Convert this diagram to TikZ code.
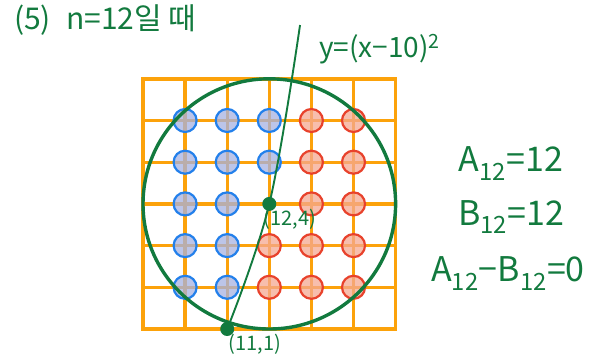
\documentclass[tikz,border=0pt]{standalone}
\usepackage{fontspec}
\setmainfont{Noto Sans CJK KR}
\usepackage{tikz}
\usetikzlibrary{positioning}

\definecolor{hgreen}{RGB}{18,122,62}
\definecolor{gorange}{RGB}{252,162,10}
\definecolor{dblue}{RGB}{35,128,235}
\definecolor{fblue}{RGB}{165,178,225}
\definecolor{dred}{RGB}{232,66,44}
\definecolor{fred}{RGB}{244,168,145}

\begin{document}
\begin{tikzpicture}[
  x=42.1pt, y=41.7pt,
  every node/.style={text=hgreen, inner sep=1pt},
  gridline/.style={draw=gorange, line width=3.4pt},
  lat/.style={circle, line width=2.2pt, minimum size=23pt, inner sep=0pt,
              fill opacity=0.75},
  bdot/.style={lat, draw=dblue, fill=fblue},
  rdot/.style={lat, draw=dred, fill=fred},
  gdot/.style={circle, fill=hgreen, minimum size=14pt, inner sep=0pt},
  bigcirc/.style={draw=hgreen, line width=3.4pt},
  curve/.style={draw=hgreen, line width=1.9pt},
  big/.style={font=\fontsize{34}{38}\selectfont},
  lbl/.style={font=\fontsize{20}{24}\selectfont}
]
\useasboundingbox (-3.397,-0.647) rectangle (10.665,7.890);

%% ---- GRID ------------------------------------------------------
\draw[gridline] (0,0) rectangle (6,6);
\foreach \k in {1,...,5} {
  \draw[gridline] (\k,0) -- (\k,6);
  \draw[gridline] (0,\k) -- (6,\k);
}

%% ---- LATTICE POINTS --------------------------------------------
\foreach \i/\j in {1/5,2/5,3/5,1/4,2/4,3/4,1/3,2/3,1/2,2/2,1/1,2/1}
  \node[bdot] (b-\i-\j) at (\i,\j) {};
\foreach \i/\j in {4/5,5/5,4/4,5/4,4/3,5/3,3/2,4/2,5/2,3/1,4/1,5/1}
  \node[rdot] (r-\i-\j) at (\i,\j) {};

%% ---- CIRCLE AND CURVE ------------------------------------------
\coordinate (ctr)  at (3,3);
\coordinate (low)  at (2,0);
\coordinate (ltop) at (3.73,7.29);

\draw[bigcirc] (ctr) circle[radius=3];
\draw[curve] plot[smooth, tension=0.6] coordinates {(low) (ctr) (ltop)};

\node[gdot] (c124) at (ctr) {};
\node[gdot] (c111) at (low) {};
\node[lbl] (l124) at (3.49,2.64) {(12,4)};
\node[lbl] (l111) at (2.66,-0.36) {(11,1)};

%% ---- TEXTS -----------------------------------------------------
\node[font=\fontsize{30}{34}\selectfont, anchor=west] (title)
  at (-3.09,7.41) {(5)\; n=12일 때};
\node[font=\fontsize{28}{32}\selectfont, anchor=base west] (eqn)
  at (4.16,6.52) {y=(x−10)\textsuperscript{2}};

\node[big, anchor=base] (a12) at (8.74,3.77) {A\textsubscript{12}=12};
\node[big, anchor=base] (b12) at (8.74,2.49) {B\textsubscript{12}=12};
\node[big, anchor=base] (ab)  at (8.67,1.13)
  {A\textsubscript{12}−B\textsubscript{12}=0};

\end{tikzpicture}
\end{document}
